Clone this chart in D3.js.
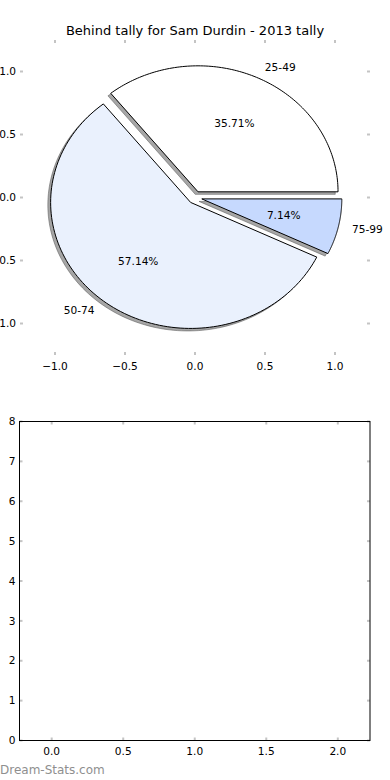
<!DOCTYPE html>
<html>
<head>
<meta charset="utf-8">
<script src="https://cdn.jsdelivr.net/npm/d3@7"></script>
<style>
  body { margin: 0; background: #fff; }
  svg { display: block; font-family: "DejaVu Sans", sans-serif; }
</style>
</head>
<body>
<svg width="390" height="780"></svg>
<script>
const width = 390;
const height = 780;

const title = "Behind tally for Sam Durdin - 2013 tally";
const labels = ["25-49", "50-74", "75-99"];
const counts = [5, 8, 1];
const colors = ["#ffffff", "#eaf1fd", "#c6d9fe"];
const explode = [0.05, 0.05, 0.05];

const pieTicks = [-1.0, -0.5, 0.0, 0.5, 1.0];
const barXTicks = [0.0, 0.5, 1.0, 1.5, 2.0];
const barYTicks = [0, 1, 2, 3, 4, 5, 6, 7, 8];

const svg = d3.select("svg")
  .attr("viewBox", [0, 0, width, height]);

const tickColor = "#c4c4c4";
const fs = 10.6;

// ---- top: pie ----
const px = d3.scaleLinear().domain([-1.25, 1.25]).range([20, 370]);
const py = d3.scaleLinear().domain([-1.25, 1.25]).range([355, 40]);

const pieG = svg.append("g");

pieG.append("text")
  .attr("x", (px.range()[0] + px.range()[1]) / 2)
  .attr("y", 34.5)
  .attr("text-anchor", "middle")
  .attr("font-size", 13)
  .text(title);

const pie = d3.pie().sort(null).startAngle(0).endAngle(2 * Math.PI);
const arcs = pie(counts);
const total = d3.sum(counts);

const line = d3.line().x(d => px(d[0])).y(d => py(d[1]));

function wedgePoints(a, i, ox, oy) {
  const dx = explode[i] * Math.cos((a.startAngle + a.endAngle) / 2) + ox;
  const dy = explode[i] * Math.sin((a.startAngle + a.endAngle) / 2) + oy;
  const pts = [[dx, dy]];
  const n = 120;
  for (let k = 0; k <= n; k++) {
    const t = a.startAngle + (a.endAngle - a.startAngle) * k / n;
    pts.push([dx + Math.cos(t), dy + Math.sin(t)]);
  }
  pts.push([dx, dy]);
  return pts;
}

// shadows first
pieG.append("g").selectAll("path")
  .data(arcs)
  .join("path")
  .attr("d", (a, i) => line(wedgePoints(a, i, -0.02, -0.02)) + "Z")
  .attr("fill", "rgb(77,77,77)")
  .attr("fill-opacity", 0.5)
  .attr("stroke", "rgb(77,77,77)")
  .attr("stroke-opacity", 0.5);

pieG.append("g").selectAll("path")
  .data(arcs)
  .join("path")
  .attr("d", (a, i) => line(wedgePoints(a, i, 0, 0)) + "Z")
  .attr("fill", (a, i) => colors[i])
  .attr("stroke", "#000")
  .attr("stroke-width", 1)
  .attr("stroke-linejoin", "miter");

// labels and percentages
arcs.forEach((a, i) => {
  const mid = (a.startAngle + a.endAngle) / 2;
  const dx = explode[i] * Math.cos(mid);
  const dy = explode[i] * Math.sin(mid);
  const lx = dx + 1.1 * Math.cos(mid);
  const ly = dy + 1.1 * Math.sin(mid);
  pieG.append("text")
    .attr("x", px(lx))
    .attr("y", py(ly))
    .attr("dy", "0.35em")
    .attr("text-anchor", lx > 0 ? "start" : "end")
    .attr("font-size", fs)
    .text(labels[i]);
  const tx = dx + 0.6 * Math.cos(mid);
  const ty = dy + 0.6 * Math.sin(mid);
  pieG.append("text")
    .attr("x", px(tx))
    .attr("y", py(ty))
    .attr("dy", "0.35em")
    .attr("text-anchor", "middle")
    .attr("font-size", fs)
    .text((100 * a.value / total).toFixed(2) + "%");
});

const fmt1 = d3.format(".1f");
const minus = s => s.replace("-", "\u2212");

function innerTicks(g, x, y, xt, yt, xfmt, yfmt) {
  const [x0, x1] = x.range();
  const [y0, y1] = y.range();
  const t = g.append("g").attr("stroke", tickColor).attr("stroke-width", 2);
  xt.forEach(v => {
    t.append("line").attr("x1", x(v)).attr("x2", x(v)).attr("y1", y0).attr("y2", y0 - 3);
    t.append("line").attr("x1", x(v)).attr("x2", x(v)).attr("y1", y1).attr("y2", y1 + 3);
  });
  yt.forEach(v => {
    t.append("line").attr("x1", x0).attr("x2", x0 + 3).attr("y1", y(v)).attr("y2", y(v));
    t.append("line").attr("x1", x1).attr("x2", x1 - 3).attr("y1", y(v)).attr("y2", y(v));
  });
  g.append("g").selectAll("text")
    .data(xt)
    .join("text")
    .attr("x", d => x(d))
    .attr("y", y0 + 7)
    .attr("dy", "0.71em")
    .attr("text-anchor", "middle")
    .attr("font-size", fs)
    .text(d => minus(xfmt(d)));
  g.append("g").selectAll("text")
    .data(yt)
    .join("text")
    .attr("x", x0 - 4)
    .attr("y", d => y(d))
    .attr("dy", "0.35em")
    .attr("text-anchor", "end")
    .attr("font-size", fs)
    .text(d => minus(yfmt(d)));
}

innerTicks(pieG, px, py, pieTicks, pieTicks, fmt1, fmt1);

// ---- bottom: empty axes ----
const bx = d3.scaleLinear().domain([-0.225, 2.225]).range([19.5, 370]);
const by = d3.scaleLinear().domain([0, 8]).range([740.5, 421.5]);

const emptyG = svg.append("g");
innerTicks(emptyG, bx, by, barXTicks, barYTicks, fmt1, d3.format("d"));

emptyG.append("rect")
  .attr("x", bx.range()[0])
  .attr("y", by.range()[1])
  .attr("width", bx.range()[1] - bx.range()[0])
  .attr("height", by.range()[0] - by.range()[1])
  .attr("fill", "none")
  .attr("stroke", "#000")
  .attr("stroke-width", 1);

svg.append("text")
  .attr("x", 0)
  .attr("y", 774)
  .attr("font-size", 12)
  .attr("fill", "#8f8f8f")
  .text("Dream-Stats.com");
</script>
</body>
</html>
